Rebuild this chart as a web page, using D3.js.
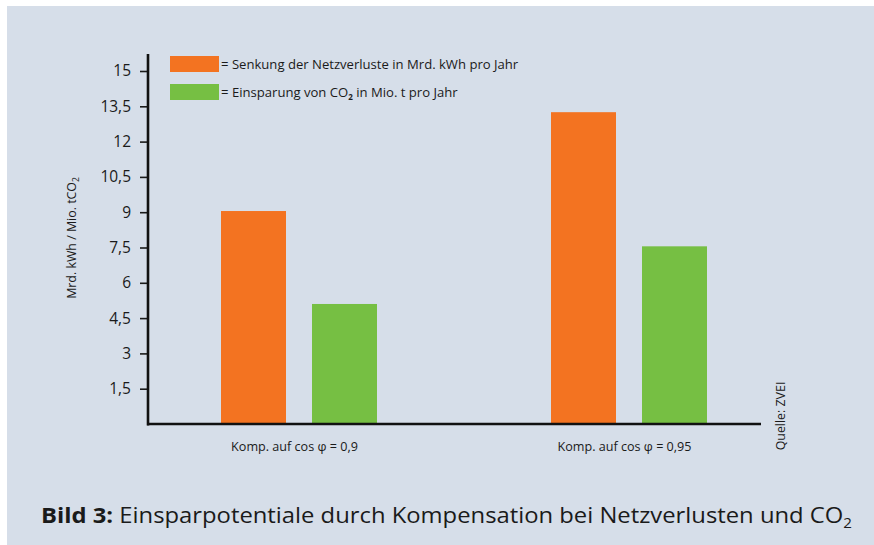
<!DOCTYPE html>
<html><head><meta charset="utf-8">
<script src="https://cdn.jsdelivr.net/npm/d3@7"></script>
<style>
html,body{margin:0;padding:0;background:#fff;}
svg{display:block;}
text{font-family:"Open Sans","Noto Sans",sans-serif;fill:#1a1a1a;}
</style></head>
<body>
<svg id="c" width="874" height="545"></svg>
<script>
const categories = ["Komp. auf cos φ = 0,9", "Komp. auf cos φ = 0,95"];
const seriesNames = ["Senkung der Netzverluste in Mrd. kWh pro Jahr", "Einsparung von CO₂ in Mio. t pro Jahr"];
const netzverluste = [9.05, 13.25];
const co2 = [5.1, 7.55];
const yTicks = [1.5, 3, 4.5, 6, 7.5, 9, 10.5, 12, 13.5, 15];
const colors = ["#f37321", "#76bf43"];

const svg = d3.select("#c");
svg.append("rect").attr("x", 7).attr("y", 6).attr("width", 867).attr("height", 539).attr("fill", "#d6dee9");

const y = d3.scaleLinear().domain([0, 15]).range([424, 71]);
const x0 = d3.scaleOrdinal().domain(categories).range([221, 551]);
const x1 = d3.scaleBand().domain([0, 1]).range([0, 156]).paddingInner(0.2857).paddingOuter(0);

// bars
const groups = svg.append("g").selectAll("g").data(categories).join("g")
  .attr("transform", d => `translate(${x0(d)},0)`);
groups.each(function(c, i) {
  const vals = [netzverluste[i], co2[i]];
  d3.select(this).selectAll("rect").data(vals).join("rect")
    .attr("x", (d, j) => x1(j))
    .attr("width", x1.bandwidth())
    .attr("y", d => y(d))
    .attr("height", d => y(0) - y(d))
    .attr("fill", (d, j) => colors[j]);
});

// y axis
const yAxis = d3.axisLeft(y).tickValues(yTicks).tickSize(8).tickPadding(9)
  .tickFormat(d => String(d).replace(".", ","));
const gy = svg.append("g").attr("transform", "translate(148,0)").call(yAxis);
gy.select(".domain").remove();
gy.selectAll(".tick line").attr("stroke", "#1a1a1a").attr("stroke-width", 1.6);
gy.selectAll(".tick text").attr("font-size", 15.5).attr("fill", "#1a1a1a")
  .attr("font-family", "'Open Sans',sans-serif");
svg.append("line").attr("x1", 148).attr("x2", 148).attr("y1", 54).attr("y2", y(0) + 1.5)
  .attr("stroke", "#111").attr("stroke-width", 2.6);
// x axis
svg.append("line").attr("x1", 147).attr("x2", 761).attr("y1", y(0)).attr("y2", y(0))
  .attr("stroke", "#111").attr("stroke-width", 2.6);

// category labels
svg.selectAll("text.cat").data(categories).join("text").attr("class", "cat")
  .attr("x", d => x0(d) + 73.5).attr("y", 451).attr("text-anchor", "middle")
  .attr("font-size", 12.6).text(d => d);

// y title
const yt = svg.append("text").attr("transform", "translate(76,238) rotate(-90)")
  .attr("text-anchor", "middle").attr("font-size", 12.4);
yt.append("tspan").text("Mrd. kWh / Mio. tCO");
yt.append("tspan").attr("font-size", 8.5).attr("dy", 3).text("2");

// source
svg.append("text").attr("transform", "translate(785,416) rotate(-90)")
  .attr("text-anchor", "middle").attr("font-size", 12.4).text("Quelle: ZVEI");

// legend
const leg = [["Senkung der Netzverluste in Mrd. kWh pro Jahr"], ["Einsparung von CO", "2", " in Mio. t pro Jahr"]];
leg.forEach((parts, i) => {
  const yy = 56 + i * 28;
  svg.append("rect").attr("x", 170).attr("y", yy).attr("width", 49).attr("height", 16).attr("fill", colors[i]);
  const t = svg.append("text").attr("x", 221).attr("y", yy + 12.5).attr("font-size", 13.1);
  t.append("tspan").text("= " + parts[0]);
  if (parts.length > 1) {
    t.append("tspan").attr("font-size", 8).attr("font-weight", "bold").attr("dy", 3).text(parts[1]);
    t.append("tspan").attr("dy", -3).text(parts[2]);
  }
});

// caption
const cap = svg.append("text").attr("x", 41).attr("y", 523).attr("font-size", 22)
  .attr("font-family", "'Open Sans',sans-serif");
cap.append("tspan").attr("font-weight", "bold").text("Bild 3:");
cap.append("tspan").text(" Einsparpotentiale durch Kompensation bei Netzverlusten und CO");
cap.append("tspan").attr("font-size", 14).attr("dy", 5).text("2");
cap.attr("textLength", 811).attr("lengthAdjust", "spacingAndGlyphs");
</script>
</body></html>
